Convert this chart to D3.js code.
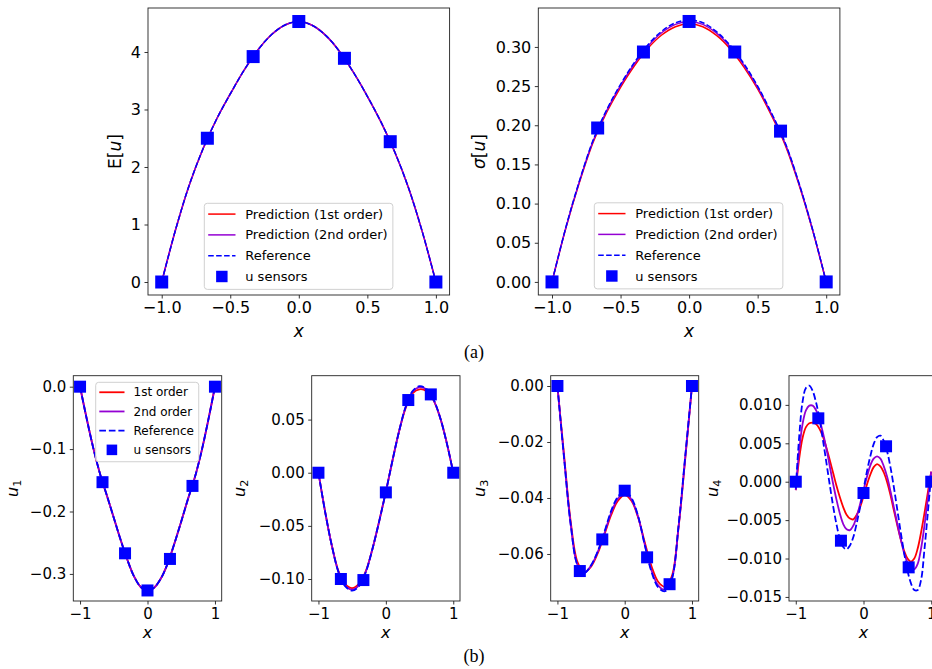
<!DOCTYPE html>
<html><head><meta charset="utf-8">
<script src="https://cdn.jsdelivr.net/npm/d3@7"></script>
<style>body{margin:0;background:#fff} svg{display:block}</style>
</head><body>
<svg id="chart" width="932" height="669"></svg>
<script>
// ---------------- DATA ----------------
const xGrid = [-1.0,-0.9,-0.8,-0.7,-0.6,-0.5,-0.4,-0.3,-0.2,-0.1,0.0,0.1,0.2,0.3,0.4,0.5,0.6,0.7,0.8,0.9,1.0];
const xGridFine = [-1.0,-0.95,-0.9,-0.85,-0.8,-0.75,-0.7,-0.65,-0.6,-0.55,-0.5,-0.45,-0.4,-0.35,-0.3,-0.25,-0.2,-0.15,-0.1,-0.05,0.0,
                   0.05,0.1,0.15,0.2,0.25,0.3,0.35,0.4,0.45,0.5,0.55,0.6,0.65,0.7,0.75,0.8,0.85,0.9,0.95,1.0];
const sensorX = [-1.0,-0.667,-0.333,0.0,0.333,0.667,1.0];

// (a) mean E[u]
const meanPred1 = [0,0.90,1.68,2.31,2.83,3.27,3.68,4.03,4.30,4.47,4.53,4.46,4.28,4.00,3.64,3.23,2.78,2.26,1.64,0.88,0];
const meanPred2 = [0,0.90,1.68,2.31,2.83,3.27,3.68,4.03,4.30,4.47,4.53,4.46,4.28,4.00,3.64,3.23,2.78,2.26,1.64,0.88,0];
const meanRef   = [0,0.90,1.68,2.31,2.83,3.27,3.68,4.03,4.30,4.47,4.53,4.46,4.28,4.00,3.64,3.23,2.78,2.26,1.64,0.88,0];
const meanSensors = [0,2.50,3.92,4.53,3.89,2.44,0];

// (a) std sigma[u]
const sdPred1 = [0,0.0680,0.1271,0.1783,0.2169,0.2485,0.2757,0.2983,0.3152,0.3258,0.3295,0.3258,0.3147,0.2975,0.2743,0.2463,0.2128,0.1753,0.1251,0.0665,0];
const sdPred2 = [0,0.0686,0.1282,0.1799,0.2189,0.2508,0.2782,0.3010,0.3181,0.3288,0.3325,0.3288,0.3176,0.3002,0.2768,0.2485,0.2147,0.1769,0.1262,0.0671,0];
const sdRef   = [0,0.0690,0.1290,0.1810,0.2202,0.2523,0.2799,0.3028,0.3200,0.3308,0.3345,0.3308,0.3195,0.3020,0.2785,0.2500,0.2160,0.1780,0.1270,0.0675,0];
const sdSensors = [0,0.1965,0.2935,0.3325,0.2935,0.1925,0];

// (b) modes
const u1Pred1 = [0,-0.052,-0.100,-0.141,-0.175,-0.210,-0.245,-0.277,-0.304,-0.321,-0.327,-0.322,-0.307,-0.283,-0.251,-0.216,-0.180,-0.146,-0.104,-0.054,0];
const u1Pred2 = [0,-0.052,-0.100,-0.141,-0.175,-0.210,-0.245,-0.277,-0.304,-0.321,-0.327,-0.322,-0.307,-0.283,-0.251,-0.216,-0.180,-0.146,-0.104,-0.054,0];
const u1Ref   = [0,-0.052,-0.100,-0.141,-0.175,-0.210,-0.245,-0.277,-0.304,-0.321,-0.327,-0.322,-0.307,-0.283,-0.251,-0.216,-0.180,-0.146,-0.104,-0.054,0];
const u1Sensors = [0,-0.153,-0.267,-0.3265,-0.276,-0.159,0];

const u2Pred1 = [0,-0.037,-0.069,-0.093,-0.105,-0.1085,-0.1045,-0.093,-0.072,-0.046,-0.018,0.012,0.040,0.062,0.075,0.0785,0.077,0.069,0.053,0.029,0];
const u2Pred2 = [0,-0.037,-0.069,-0.094,-0.1065,-0.110,-0.106,-0.0935,-0.072,-0.046,-0.018,0.012,0.040,0.063,0.0765,0.0805,0.0785,0.0695,0.053,0.029,0];
const u2Ref   = [0,-0.037,-0.069,-0.094,-0.107,-0.111,-0.107,-0.094,-0.072,-0.046,-0.018,0.012,0.040,0.063,0.077,0.0815,0.079,0.070,0.053,0.029,0];
const u2Sensors = [0,-0.100,-0.101,-0.0185,0.0684,0.0737,0];

const u3Pred1 = [0,-0.025,-0.049,-0.063,-0.0665,-0.0645,-0.0597,-0.053,-0.046,-0.041,-0.039,-0.041,-0.047,-0.056,-0.0645,-0.070,-0.0717,-0.068,-0.0505,-0.026,0];
const u3Pred2 = [0,-0.026,-0.050,-0.064,-0.0666,-0.0642,-0.0592,-0.0525,-0.0452,-0.0402,-0.0382,-0.0405,-0.0468,-0.0568,-0.066,-0.0713,-0.0728,-0.069,-0.0505,-0.0255,0];
const u3Ref   = [0,-0.026,-0.050,-0.064,-0.0668,-0.064,-0.059,-0.052,-0.0445,-0.0395,-0.0375,-0.040,-0.0465,-0.057,-0.0665,-0.0720,-0.0733,-0.069,-0.050,-0.025,0];
const u3Sensors = [0,-0.0661,-0.0548,-0.0374,-0.0612,-0.0708,0];

const u4Pred1 = [-0.0011,0.0030,0.0057,0.0071,0.0076,0.0077,0.0075,0.0069,0.0059,0.0045,0.0029,0.0012,-0.0005,-0.0020,-0.0033,-0.0043,-0.0048,-0.0049,-0.0043,-0.0033,-0.0019,
                 -0.0004,0.0009,0.0019,0.0023,0.0020,0.0012,-0.0001,-0.0018,-0.0038,-0.0057,-0.0075,-0.0090,-0.0100,-0.0104,-0.0100,-0.0087,-0.0066,-0.0041,-0.0014,0.0013];
const u4Pred2 = [-0.0011,0.0040,0.0075,0.0093,0.0099,0.0099,0.0093,0.0081,0.0064,0.0044,0.0021,-0.0002,-0.0023,-0.0041,-0.0055,-0.0062,-0.0063,-0.0057,-0.0045,-0.0029,-0.0011,
                 0.0006,0.0021,0.0030,0.0033,0.0030,0.0020,0.0006,-0.0013,-0.0034,-0.0055,-0.0075,-0.0093,-0.0105,-0.0113,-0.0114,-0.0107,-0.0087,-0.0057,-0.0022,0.0013];
const u4Ref   = [-0.0009,0.0058,0.0104,0.0122,0.0125,0.0118,0.0103,0.0082,0.0055,0.0026,-0.0003,-0.0031,-0.0055,-0.0074,-0.0085,-0.0088,-0.0083,-0.0072,-0.0054,-0.0033,-0.0010,
                 0.0013,0.0033,0.0049,0.0058,0.0060,0.0053,0.0039,0.0018,-0.0008,-0.0037,-0.0066,-0.0093,-0.0116,-0.0132,-0.0141,-0.0141,-0.0128,-0.0088,-0.0040,0.0009];
const u4Sensors = [0,0.00825,-0.00768,-0.00147,0.00461,-0.01115,0];

// tick labels
const topXTicks = [-1.0,-0.5,0.0,0.5,1.0];
const meanYTicks = [0,1,2,3,4];
const sdYTicks = [0.00,0.05,0.10,0.15,0.20,0.25,0.30];
const botXTicks = [-1,0,1];
const u1YTicks = [0.0,-0.1,-0.2,-0.3];
const u2YTicks = [0.05,0.00,-0.05,-0.10];
const u3YTicks = [0.00,-0.02,-0.04,-0.06];
const u4YTicks = [0.010,0.005,0.000,-0.005,-0.010,-0.015];

const topLegendLabels = ["Prediction (1st order)","Prediction (2nd order)","Reference","u sensors"];
const botLegendLabels = ["1st order","2nd order","Reference","u sensors"];

// ---------------- STYLE / LAYOUT ----------------
const RED = "#ff0000", PURPLE = "#9400d3", BLUE = "#0000ff";
const FONT = "'DejaVu Sans', sans-serif";
const svg = d3.select("#chart");
const minus = s => s.replace(/-/g, "\u2212");

const panels = [
  {id:"mean", left:148, right:449.6, top:8, bottom:295, yDomain:[-0.226,4.765],
   xTicks:topXTicks, xFmt:".1f", yTicks:meanYTicks, yFmt:"d", grid:xGrid,
   series:[meanPred1,meanPred2,meanRef], sensors:meanSensors, tick:16, lw:1.5, ms:13,
   ylabel:[["E[",false],["u",true],["]",false]], ylabelX:121, xlabelY:337,
   legend:{x:204.3, y:203.3, fs:13, labels:topLegendLabels}},
  {id:"sd", left:538.3, right:839.9, top:8, bottom:295, yDomain:[-0.0167,0.3497],
   xTicks:topXTicks, xFmt:".1f", yTicks:sdYTicks, yFmt:".2f", grid:xGrid,
   series:[sdPred1,sdPred2,sdRef], sensors:sdSensors, tick:16, lw:1.5, ms:13,
   ylabel:[["\u03c3",true],["[",false],["u",true],["]",false]], ylabelX:484.5, xlabelY:337,
   legend:{x:594.3, y:202.8, fs:13, labels:topLegendLabels}},
  {id:"u1", left:73.3, right:221.7, top:375.7, bottom:601, yDomain:[-0.3434,0.0176],
   xTicks:botXTicks, xFmt:"d", yTicks:u1YTicks, yFmt:".1f", grid:xGrid,
   series:[u1Pred1,u1Pred2,u1Ref], sensors:u1Sensors, tick:15, lw:1.8, ms:12,
   ylabel:[["u",true],["1",false,true]], ylabelX:18, xlabelY:638,
   legend:{x:95.7, y:382.3, fs:12, labels:botLegendLabels}},
  {id:"u2", left:311.7, right:460, top:375.7, bottom:601, yDomain:[-0.1207,0.0913],
   xTicks:botXTicks, xFmt:"d", yTicks:u2YTicks, yFmt:".2f", grid:xGrid,
   series:[u2Pred1,u2Pred2,u2Ref], sensors:u2Sensors, tick:15, lw:1.8, ms:12,
   ylabel:[["u",true],["2",false,true]], ylabelX:245, xlabelY:638},
  {id:"u3", left:550.7, right:698.7, top:375.7, bottom:601, yDomain:[-0.0768,0.00368],
   xTicks:botXTicks, xFmt:"d", yTicks:u3YTicks, yFmt:".2f", grid:xGrid,
   series:[u3Pred1,u3Pred2,u3Ref], sensors:u3Sensors, tick:15, lw:1.8, ms:12,
   ylabel:[["u",true],["3",false,true]], ylabelX:485, xlabelY:638},
  {id:"u4", left:789, right:938, top:375.7, bottom:601, yDomain:[-0.01553,0.0138],
   xTicks:botXTicks, xFmt:"d", yTicks:u4YTicks, yFmt:".3f", grid:xGridFine,
   series:[u4Pred1,u4Pred2,u4Ref], sensors:u4Sensors, tick:15, lw:1.8, ms:12,
   ylabel:[["u",true],["4",false,true]], ylabelX:718, xlabelY:638}
];

const seriesStyle = [
  {color:RED, dash:null},
  {color:PURPLE, dash:null},
  {color:BLUE, dash:true}
];

panels.forEach((p, pi) => {
  const x = d3.scaleLinear().domain([-1.1,1.1]).range([p.left,p.right]);
  const y = d3.scaleLinear().domain(p.yDomain).range([p.bottom,p.top]);
  const g = svg.append("g").attr("class","panel-"+p.id);

  const clipId = "clip-"+p.id;
  svg.append("clipPath").attr("id",clipId).append("rect")
    .attr("x",p.left).attr("y",p.top).attr("width",p.right-p.left).attr("height",p.bottom-p.top);

  // lines
  const line = d3.line().x(d=>x(d[0])).y(d=>y(d[1])).curve(d3.curveCatmullRom.alpha(0.5));
  const lg = g.append("g").attr("clip-path",`url(#${clipId})`);
  p.series.forEach((vals, si) => {
    const st = seriesStyle[si];
    lg.append("path")
      .datum(p.grid.map((xv,i)=>[xv, vals[i]]))
      .attr("d", line)
      .attr("fill","none")
      .attr("stroke", st.color)
      .attr("stroke-width", p.lw)
      .attr("stroke-dasharray", st.dash ? `${3.7*p.lw},${1.6*p.lw}` : null);
  });
  // sensors
  g.append("g").selectAll("rect").data(sensorX.map((xv,i)=>[xv,p.sensors[i]])).join("rect")
    .attr("x", d=>x(d[0])-p.ms/2).attr("y", d=>y(d[1])-p.ms/2)
    .attr("width",p.ms).attr("height",p.ms).attr("fill",BLUE);

  // axes
  const xAxis = d3.axisBottom(x).tickValues(p.xTicks).tickFormat(v=>minus(d3.format(p.xFmt)(v)))
      .tickSize(3.5).tickPadding(3.5).tickSizeOuter(0);
  const yAxis = d3.axisLeft(y).tickValues(p.yTicks).tickFormat(v=>minus(d3.format(p.yFmt)(v)))
      .tickSize(3.5).tickPadding(3.5).tickSizeOuter(0);
  const gx = g.append("g").attr("transform",`translate(0,${p.bottom})`).call(xAxis);
  const gy = g.append("g").attr("transform",`translate(${p.left},0)`).call(yAxis);
  [gx,gy].forEach(a=>{
    a.select(".domain").remove();
    a.selectAll("line").attr("stroke","#000").attr("stroke-width",0.8);
    a.selectAll("text").attr("font-family",FONT).attr("font-size",p.tick).attr("fill","#000");
  });

  // frame
  g.append("rect").attr("x",p.left).attr("y",p.top).attr("width",p.right-p.left).attr("height",p.bottom-p.top)
    .attr("fill","none").attr("stroke","#222").attr("stroke-width",0.9);

  // x label
  g.append("text").attr("x",(x(-1)+x(1))/2).attr("y",p.xlabelY).attr("text-anchor","middle")
    .attr("font-family",FONT).attr("font-size",p.tick+1).attr("font-style","italic").text("x");

  // y label
  const yl = g.append("text").attr("transform",`translate(${p.ylabelX},${(p.top+p.bottom)/2}) rotate(-90)`)
    .attr("text-anchor","middle").attr("font-family",FONT).attr("font-size",p.tick+1);
  p.ylabel.forEach(([t,it,sub])=>{
    const ts = yl.append("tspan").text(t).attr("font-style", it?"italic":"normal");
    if (sub) ts.attr("font-size",(p.tick+1)*0.7).attr("dy","0.3em");
  });

  // legend
  if (p.legend) {
    const L = p.legend, fs = L.fs;
    const lgG = g.append("g");
    const box = lgG.append("rect");
    const rowY = i => L.y + 0.83*fs + i*1.6*fs;
    const hx0 = L.x + 0.3*fs, hx1 = L.x + 2.4*fs, tx = L.x + 3.15*fs;
    let maxW = 0;
    L.labels.forEach((lab,i)=>{
      if (i<3) {
        const st = seriesStyle[i];
        lgG.append("line").attr("x1",hx0).attr("x2",hx1).attr("y1",rowY(i)).attr("y2",rowY(i))
          .attr("stroke",st.color).attr("stroke-width",p.lw)
          .attr("stroke-dasharray", st.dash ? `${3.7*p.lw},${1.6*p.lw}` : null);
      } else {
        const s = fs*0.88;
        lgG.append("rect").attr("x",(hx0+hx1)/2-s/2).attr("y",rowY(i)-s/2).attr("width",s).attr("height",s).attr("fill",BLUE);
      }
      const t = lgG.append("text").attr("x",tx).attr("y",rowY(i)).attr("dy","0.35em")
        .attr("font-family",FONT).attr("font-size",fs).attr("fill","#000").text(lab);
      maxW = Math.max(maxW, t.node().getComputedTextLength());
    });
    box.attr("x",L.x).attr("y",L.y).attr("width",tx-L.x+maxW+0.4*fs).attr("height",6.62*fs)
      .attr("rx",3).attr("fill","#fff").attr("fill-opacity",0.8).attr("stroke","#d0d0d0").attr("stroke-width",1);
  }
});

// sub-figure captions
svg.append("text").attr("x",474).attr("y",358).attr("text-anchor","middle")
  .attr("font-family","'Liberation Serif', serif").attr("font-size",18).text("(a)");
svg.append("text").attr("x",474).attr("y",662).attr("text-anchor","middle")
  .attr("font-family","'Liberation Serif', serif").attr("font-size",18).text("(b)");
</script>
</body></html>
